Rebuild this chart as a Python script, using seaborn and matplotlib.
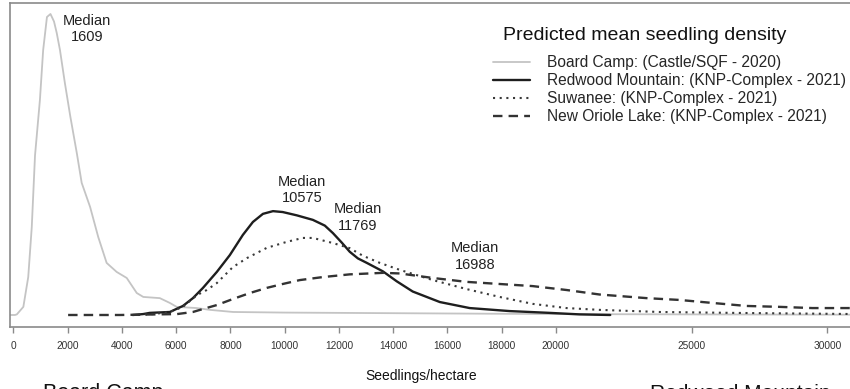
import numpy as np
import pandas as pd
import matplotlib
matplotlib.use("Agg")
import matplotlib.pyplot as plt
import seaborn as sns

# ---------------- data (relative density, Board Camp peak = 1) ----------------
board_x = [-120, 60, 130, 370, 550, 680, 800, 980, 1100, 1240, 1370, 1500, 1600, 1720, 1900, 2100,
           2340, 2520, 2830, 3130, 3440, 3810, 4180, 4550, 4790, 5400, 5770, 6020, 6760, 7250, 8100,
           10000, 14000, 20000, 25000, 31200]
board_y = [0, 0, 0.002, 0.027, 0.126, 0.292, 0.53, 0.714, 0.88, 0.99, 1.0, 0.975, 0.937, 0.88, 0.771,
           0.66, 0.538, 0.439, 0.359, 0.259, 0.173, 0.143, 0.123, 0.073, 0.060, 0.056, 0.040, 0.027,
           0.023, 0.017, 0.010, 0.008, 0.006, 0.003, 0.002, 0.001]

redwood_x = [4400, 4780, 5030, 5770, 6250, 6620, 6990, 7500, 7980, 8460, 8830, 9200, 9570, 9930, 10450,
             11040, 11480, 11780, 12110, 12400, 12700, 13030, 13620, 14130, 14720, 15720, 16820, 18290,
             19770, 20870, 22000]
redwood_y = [0.0, 0.003, 0.007, 0.010, 0.030, 0.056, 0.090, 0.143, 0.199, 0.266, 0.309, 0.336, 0.345,
             0.342, 0.331, 0.316, 0.297, 0.272, 0.240, 0.210, 0.188, 0.173, 0.145, 0.112, 0.078, 0.043,
             0.023, 0.013, 0.007, 0.002, 0.0]

suwanee_x = [4600, 5150, 5770, 6250, 6770, 7130, 7500, 8090, 8610, 9340, 10080, 10670, 11040, 11780,
             12400, 12880, 13510, 14240, 15460, 16710, 17920, 19140, 20390, 21610, 23820, 26510, 31200]
suwanee_y = [0.0, 0.003, 0.010, 0.027, 0.066, 0.083, 0.106, 0.159, 0.189, 0.223, 0.243, 0.256, 0.256,
             0.239, 0.222, 0.197, 0.173, 0.150, 0.116, 0.086, 0.060, 0.037, 0.023, 0.017, 0.010, 0.007,
             0.003]

oriole_x = [2020, 3930, 5290, 6030, 6620, 6880, 7500, 8090, 8720, 9340, 9930, 10560, 11410, 12400, 13620,
            14240, 15460, 16710, 17920, 19140, 20390, 21610, 23340, 24550, 25770, 27020, 28240, 29450,
            31200]
oriole_y = [0, 0, 0.002, 0.003, 0.010, 0.017, 0.033, 0.053, 0.073, 0.090, 0.103, 0.116, 0.126, 0.135,
            0.140, 0.138, 0.123, 0.110, 0.103, 0.096, 0.083, 0.068, 0.056, 0.050, 0.040, 0.030, 0.027,
            0.023, 0.023]

series_names = ["Board Camp: (Castle/SQF - 2020)",
                "Redwood Mountain: (KNP-Complex - 2021)",
                "Suwanee: (KNP-Complex - 2021)",
                "New Oriole Lake: (KNP-Complex - 2021)"]

median_labels = ["Median\n1609", "Median\n10575", "Median\n11769", "Median\n16988"]
median_text_x = [2716, 10640, 12704, 17016]
median_text_y = [0.950, 0.415, 0.324, 0.194]

xticks = [0, 2000, 4000, 6000, 8000, 10000, 12000, 14000, 16000, 18000, 20000, 25000, 30000]

# ---------------- drawing ----------------
sns.set_theme(style="white")
plt.rcParams['font.family'] = ['Liberation Sans', 'DejaVu Sans']

W, H = 850, 389
fig = plt.figure(figsize=(W / 100, H / 100), dpi=100)
ax = fig.add_axes([10 / W, 1 - 327 / H, 850 / W, 324 / H])

styles = [
    (board_x, board_y, "#c4c4c4", "-", 1.3),
    (redwood_x, redwood_y, "#1e1e1e", "-", 1.7),
    (suwanee_x, suwanee_y, "#3a3a3a", (0, (1, 2.2)), 1.5),
    (oriole_x, oriole_y, "#333333", (0, (4, 2.6)), 1.7),
]
for name, (xs, ys, col, ls, lw) in zip(series_names, styles):
    df = pd.DataFrame({"x": xs, "y": ys})
    sns.lineplot(data=df, x="x", y="y", ax=ax, color=col, linestyle=ls,
                 linewidth=lw, legend=False, sort=False)

ax.set_xlim(-122, 31205)
ax.set_ylim(-0.0399, 1.0365)
ax.set_yticks([])
ax.set_xticks(xticks)
ax.set_xticklabels([str(t) for t in xticks], fontsize=7.3, color="#333333")
ax.tick_params(axis="x", bottom=True, length=4, width=1, color="#8a8a8a", pad=6)
ax.set_ylabel("")
for side in ["left", "top", "bottom"]:
    ax.spines[side].set_color("#8a8a8a")
    ax.spines[side].set_linewidth(1.2)
ax.spines["right"].set_visible(False)

ax.set_xlabel("Seedlings/hectare", fontsize=10, color="#111111")
ax.xaxis.set_label_coords((421 - 10) / 850, (327 - 376) / 324)
ax.xaxis.label.set_verticalalignment("center")

for lab, tx, ty in zip(median_labels, median_text_x, median_text_y):
    ax.text(tx, ty, lab, ha="center", va="center", fontsize=10.5, color="#222222",
            linespacing=1.25)

handles = ax.get_lines()[:4]
ax.legend(handles, series_names, loc="upper left",
          bbox_to_anchor=(493 / W, 1 - 55 / H), bbox_transform=fig.transFigure,
          frameon=False, fontsize=11.2, handlelength=2.4, handletextpad=1.1,
          labelspacing=0.2, borderpad=0, borderaxespad=0)
fig.text(503 / W, 1 - 35 / H, "Predicted mean seedling density", fontsize=14,
         ha="left", va="center", color="#111111")

fig.text(43 / W, 1 - 399 / H, "Board Camp", fontsize=15.5, ha="left", va="baseline",
         color="#111111")
fig.text(650 / W, 1 - 399 / H, "Redwood Mountain", fontsize=15, ha="left", va="baseline",
         color="#111111")

fig.savefig("out.png", dpi=100)
